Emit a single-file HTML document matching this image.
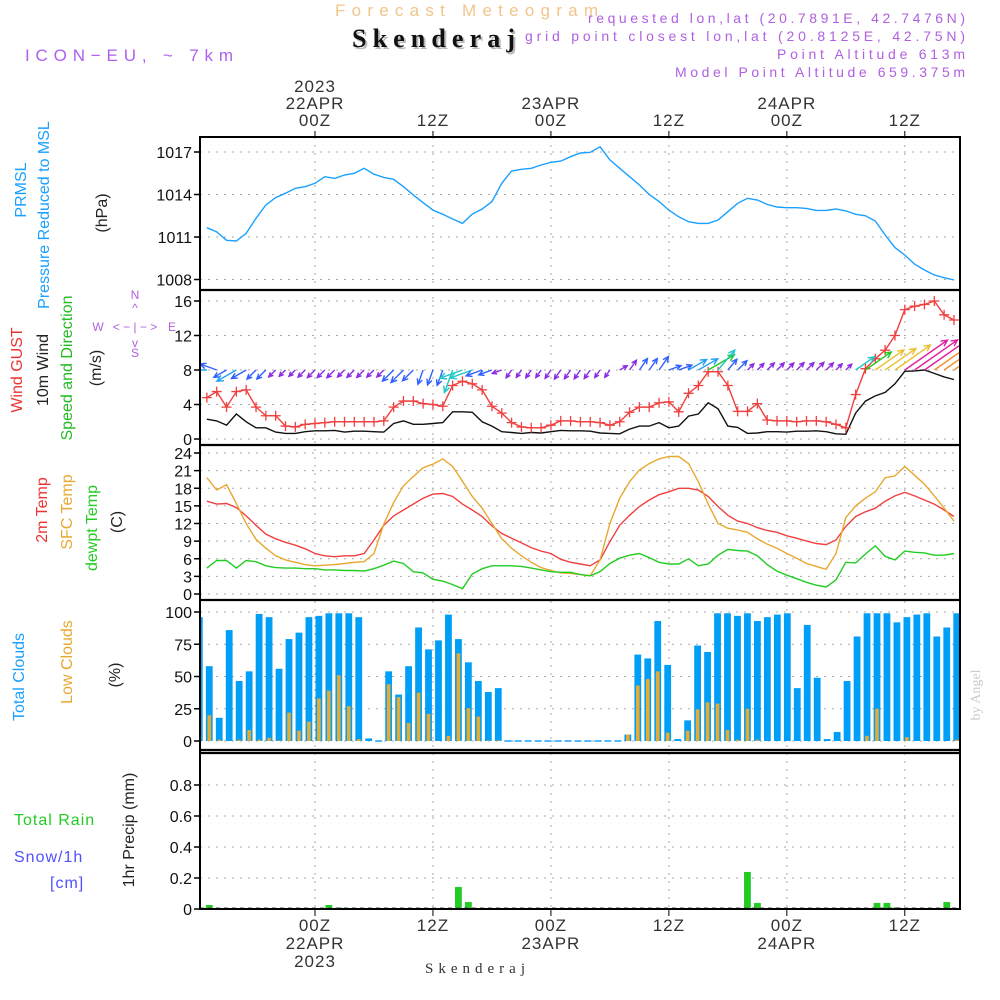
<!DOCTYPE html>
<html><head><meta charset="utf-8"><style>
body{margin:0;background:#fff;}
svg{display:block;font-family:"Liberation Sans",sans-serif;}
</style></head><body>
<svg id="chart" width="1000" height="1000" viewBox="0 0 1000 1000">
<text x="335" y="16" textLength="263" lengthAdjust="spacing" font-size="17" fill="#f2c58a">Forecast Meteogram</text>
<text x="354" y="49" textLength="163" lengthAdjust="spacing" font-size="26" font-weight="bold" fill="#bbb" font-family="Liberation Serif,serif">Skenderaj</text>
<text x="352" y="47" textLength="163" lengthAdjust="spacing" font-size="26" font-weight="bold" fill="#111" font-family="Liberation Serif,serif">Skenderaj</text>
<text x="588" y="23" textLength="377" lengthAdjust="spacing" font-size="14" fill="#b060e0">requested lon,lat (20.7891E, 42.7476N)</text>
<text x="525" y="41" textLength="440" lengthAdjust="spacing" font-size="14" fill="#b060e0">grid point closest lon,lat (20.8125E, 42.75N)</text>
<text x="777" y="59" textLength="188" lengthAdjust="spacing" font-size="14" fill="#b060e0">Point Altitude 613m</text>
<text x="675" y="77" textLength="290" lengthAdjust="spacing" font-size="14" fill="#b060e0">Model Point Altitude 659.375m</text>
<text x="25" y="61" textLength="208" lengthAdjust="spacing" font-size="17" fill="#b060f0">ICON−EU, ~ 7km</text>
<text x="980" y="695" font-size="14" fill="#ccc" font-family="Liberation Serif,serif" transform="rotate(-90 980 695)" text-anchor="middle">by Angel</text>

<g font-size="16" fill="#222">
<text x="26" y="190" fill="#1aa0ff" transform="rotate(-90 26 190)" text-anchor="middle">PRMSL</text>
<text x="49" y="215" fill="#1aa0ff" transform="rotate(-90 49 215)" text-anchor="middle">Pressure Reduced to MSL</text>
<text x="107" y="213" transform="rotate(-90 107 213)" text-anchor="middle">(hPa)</text>
<text x="22" y="370" fill="#ee3333" transform="rotate(-90 22 370)" text-anchor="middle">Wind GUST</text>
<text x="48" y="370" transform="rotate(-90 48 370)" text-anchor="middle">10m Wind</text>
<text x="72" y="368" fill="#22bb22" transform="rotate(-90 72 368)" text-anchor="middle">Speed and Direction</text>
<text x="101" y="368" transform="rotate(-90 101 368)" text-anchor="middle">(m/s)</text>
<text x="47" y="510" fill="#ee3333" transform="rotate(-90 47 510)" text-anchor="middle">2m Temp</text>
<text x="72" y="512" fill="#e8a830" transform="rotate(-90 72 512)" text-anchor="middle">SFC Temp</text>
<text x="97" y="528" fill="#22cc22" transform="rotate(-90 97 528)" text-anchor="middle">dewpt Temp</text>
<text x="122" y="522" transform="rotate(-90 122 522)" text-anchor="middle">(C)</text>
<text x="24" y="677" fill="#1aa0ff" transform="rotate(-90 24 677)" text-anchor="middle">Total Clouds</text>
<text x="72" y="662" fill="#e8a830" transform="rotate(-90 72 662)" text-anchor="middle">Low Clouds</text>
<text x="120" y="675" transform="rotate(-90 120 675)" text-anchor="middle">(%)</text>
<text x="134" y="830" transform="rotate(-90 134 830)" text-anchor="middle">1hr Precip (mm)</text>
<text x="14" y="825" fill="#22cc22" letter-spacing="1">Total  Rain</text>
<text x="14" y="862" fill="#5050ff" letter-spacing="1">Snow/1h</text>
<text x="50" y="888" fill="#5050ff" letter-spacing="1">[cm]</text>
</g>
<g fill="#b060e0" font-size="12">
<text x="135" y="299" text-anchor="middle">N</text>
<text x="135" y="312" text-anchor="middle">^</text>
<text x="98" y="331" text-anchor="middle">W</text>
<text x="135" y="331" text-anchor="middle">&lt; − | − &gt;</text>
<text x="172" y="331" text-anchor="middle">E</text>
<text x="135" y="347" text-anchor="middle">v</text>
<text x="135" y="357" text-anchor="middle">S</text>
</g>
<g id="plot"></g>
</svg>
<script>
const hours = [];
for (let h = -11; h <= 65; h++) hours.push(h);
const pressure = [1011.66,1011.37,1010.77,1010.72,1011.26,1012.32,1013.26,1013.78,1014.09,1014.44,1014.55,1014.79,1015.26,1015.14,1015.38,1015.5,1015.85,1015.43,1015.21,1015.07,1014.55,1013.97,1013.42,1012.9,1012.6,1012.27,1011.96,1012.62,1012.98,1013.5,1014.79,1015.66,1015.78,1015.85,1016.08,1016.27,1016.36,1016.67,1016.93,1016.98,1017.37,1016.44,1015.85,1015.26,1014.67,1014.01,1013.5,1012.9,1012.43,1012.08,1011.96,1011.96,1012.2,1012.79,1013.38,1013.73,1013.61,1013.3,1013.12,1013.07,1013.07,1013.02,1012.88,1012.88,1012.98,1012.84,1012.6,1012.5,1012.13,1011.14,1010.25,1009.73,1009.08,1008.67,1008.32,1008.13,1007.97];
const gust = [4.8,5.5,3.7,5.5,5.7,3.7,2.7,2.7,1.5,1.4,1.7,1.8,1.9,2.0,2.0,2.0,2.0,2.0,2.1,3.7,4.4,4.4,4.1,4.0,3.8,6.2,6.7,6.4,5.7,3.8,3.0,1.9,1.4,1.3,1.3,1.6,2.1,2.1,2.0,2.0,1.9,1.6,2.0,3.1,3.7,3.7,4.2,4.3,3.15,5.3,6.2,7.8,7.8,6.2,3.2,3.2,4.1,2.2,2.1,2.1,2.0,2.1,2.1,2.0,1.7,1.3,5.15,8.15,9.3,10.3,12.0,15.0,15.4,15.6,16.0,14.4,13.8];
const wind10 = [2.3,2.1,1.6,2.9,2.0,1.3,1.3,0.8,0.65,0.65,0.85,0.95,0.95,1.0,0.8,0.9,0.9,0.85,0.8,1.8,2.1,1.7,1.7,1.8,1.9,3.15,3.15,3.1,2.0,1.5,0.85,0.75,0.65,0.75,0.7,0.85,1.0,0.95,0.95,0.9,0.7,0.65,0.6,1.15,1.5,1.5,1.9,1.3,1.5,2.65,2.9,4.2,3.5,1.5,1.35,0.65,0.7,0.85,0.85,0.8,0.9,0.9,0.95,0.85,0.6,0.55,3.0,4.4,5.0,5.4,6.4,7.85,7.9,8.0,7.6,7.2,6.9];
const windDir = [180,160,210,210,210,225,225,225,225,225,225,225,225,225,225,225,225,225,225,225,225,225,250,250,250,250,200,200,200,200,200,235,235,235,235,235,235,235,235,235,235,235,30,55,55,55,55,20,20,30,30,30,50,50,45,45,45,45,45,45,45,45,45,45,45,45,35,35,35,35,35,35,35,35,35,35,35];
const temp2m = [15.8,15.3,15.4,14.7,13.3,11.7,10.2,9.4,8.8,8.3,7.7,6.9,6.5,6.35,6.5,6.5,6.9,9.2,11.7,13.3,14.3,15.3,16.3,17.0,17.1,16.6,15.3,14.3,13.2,11.6,10.3,9.5,8.7,7.9,7.3,6.9,5.9,5.4,5.1,4.8,5.8,8.9,11.7,13.4,14.9,16.0,16.9,17.4,18.0,18.0,17.7,16.6,14.9,13.4,12.4,12.0,11.3,10.8,10.5,9.9,9.5,9.0,8.6,8.4,9.2,11.5,13.2,14.0,14.6,15.8,16.7,17.3,16.7,16.0,15.3,14.3,13.2];
const tempSfc = [19.8,17.7,18.6,15.4,12.0,9.3,7.8,6.5,5.8,5.4,5.0,4.8,4.9,5.0,5.2,5.4,5.5,6.9,11.9,15.6,18.4,20.0,21.5,22.1,23.0,21.7,19.2,16.6,14.6,12.0,9.4,7.8,6.5,5.4,4.5,4.0,3.6,3.5,3.3,3.1,5.8,12.0,16.3,19.1,21.1,22.2,23.0,23.4,23.4,22.2,19.1,15.3,12.0,11.2,10.9,10.5,9.4,8.5,7.8,6.9,6.1,5.2,4.7,4.2,6.9,13.0,15.0,16.3,17.4,19.8,20.1,21.7,20.2,18.7,16.7,14.6,12.4];
const dewpt = [4.4,5.7,5.7,4.4,5.7,5.5,4.8,4.5,4.4,4.4,4.3,4.3,4.1,4.1,4.0,4.0,3.9,4.3,4.9,5.6,5.2,3.8,3.6,2.5,2.2,1.6,0.9,3.4,4.3,4.8,4.8,4.8,4.7,4.4,4.1,3.8,3.7,3.7,3.3,3.1,3.8,5.2,6.1,6.6,6.9,6.2,5.4,5.1,5.1,6.0,4.8,5.1,6.6,7.6,7.4,7.3,6.5,5.0,3.9,3.2,2.6,2.0,1.5,1.2,2.4,5.4,5.3,6.8,8.2,6.4,5.8,7.3,7.1,7.0,6.6,6.6,6.9];
const totalClouds = [96,58,18,86,46.5,54,98.5,96,56,79,84,96,97,99,99,99,96,2,0,54,36,58,88,71,78,98,79,61,46.5,38,41,0,0,0,0,0,0,0,0,0,0,0,0,5,67,64,93,59,1.5,16,74,69,99,99,97,99,93,96,98,99,41,90,49,1.5,7,46.5,81,99,99,99,92,96,98,99,81,88,99];
const lowClouds = [85,20,1,0,1,8.5,1,2.5,0.5,22,8,15,33,39,51,27,1.5,0,0,44,34,14,37.5,21,0,4,68,25.5,19,0.5,0.5,0,0,0,0,0,0,0,0,0,0,0,0,5,43,48,54,6.5,0,8,24.5,30,29,8.5,1,25,1,0,0,0,0,0,0,0,0,0,0,4,25,0,0,3,0,0,0,0,1];
const precip = [0,0.026,0,0,0,0,0,0,0,0,0,0,0,0.026,0.01,0,0,0,0,0,0,0,0,0,0,0,0.142,0.045,0,0,0,0,0,0,0,0,0,0,0,0,0,0,0,0,0,0,0,0,0,0,0,0,0,0,0,0.239,0.039,0,0,0,0,0,0,0,0,0,0,0,0.039,0.039,0.011,0,0,0,0,0.045,0];
const pressTicks = [1008,1011,1014,1017];
const windTicks = [0,4,8,12,16];
const tempTicks = [0,3,6,9,12,15,18,21,24];
const cloudTicks = [0,25,50,75,100];
const precipTicks = [0,0.2,0.4,0.6,0.8];
const timeTicks = [0,12,24,36,48,60];
const topLabels = [["2023","22APR","00Z"],["","","12Z"],["","23APR","00Z"],["","","12Z"],["","24APR","00Z"],["","","12Z"]];
const botLabels = [["00Z","22APR","2023"],["12Z","",""],["00Z","23APR",""],["12Z","",""],["00Z","24APR",""],["12Z","",""]];

const X0 = 200, X1 = 960;
const x = h => 315 + h * 9.83;
const xb = k => 199.3 + k * 9.966;
const yP = v => 152 + (1017 - v) * 14.17;
const yW = v => 439 - v * 8.625;
const yT = v => 594 - v * 5.875;
const yC = v => 741 - v * 1.29;
const yR = v => 909 - v * 155;

const NS = "http://www.w3.org/2000/svg";
const root = document.getElementById('plot');
function mk(tag, attrs, parent) {
  const e = document.createElementNS(NS, tag);
  for (const k in attrs) e.setAttribute(k, attrs[k]);
  (parent || root).appendChild(e);
  return e;
}
const clip = mk('clipPath', {id: 'pc'});
mk('rect', {x: X0, y: 137, width: X1 - X0, height: 772}, clip);

function grid(ticks, yf, fmt, name) {
  ticks.forEach(t => {
    const gl = mk('line', {x1: X0, x2: X1, y1: yf(t), y2: yf(t), stroke: '#aaa', 'stroke-dasharray': '2,6'});
    
    
    mk('line', {x1: X0 - 6, x2: X0, y1: yf(t), y2: yf(t), stroke: '#000', 'stroke-width': 1.5});
    const tl = mk('text', {x: 192, y: yf(t) + 6, 'text-anchor': 'end', 'font-size': 16, fill: '#111'});
    tl.textContent = fmt(t);
    
    
  });
}
grid(pressTicks, yP, t => t, 'pressure');
grid(windTicks, yW, t => t, 'wind');
grid(tempTicks, yT, t => t, 'temp');
grid(cloudTicks, yC, t => t, 'cloud');
grid(precipTicks, yR, t => t === 0 ? '0' : t.toFixed(1), 'precip');
timeTicks.forEach((h, i) => {
  const vl = mk('line', {x1: x(h), x2: x(h), y1: 137, y2: 909, stroke: '#aaa', 'stroke-dasharray': '2,6'});
  
  
  mk('line', {x1: x(h), x2: x(h), y1: 131, y2: 137, stroke: '#000'});
  mk('line', {x1: x(h), x2: x(h), y1: 909, y2: 916, stroke: '#000'});
  topLabels[i].forEach((s, j) => {
    if (!s) return;
    const t = mk('text', {x: x(h), y: 92 + j * 17, 'text-anchor': 'middle', 'font-size': 17, fill: '#333', 'letter-spacing': 1});
    t.textContent = s;
    
    
  });
  botLabels[i].forEach((s, j) => {
    if (!s) return;
    const t = mk('text', {x: x(h), y: 931 + j * 18, 'text-anchor': 'middle', 'font-size': 17, fill: '#333', 'letter-spacing': 1});
    t.textContent = s;
    
    
  });
});
const bt = mk('text', {x: 425, y: 973, textLength: 100, lengthAdjust: 'spacing', 'font-size': 15, fill: '#333', 'font-family': 'Liberation Serif,serif'});
bt.textContent = 'Skenderaj';



const g = mk('g', {'clip-path': 'url(#pc)'});
function line(vals, yf, color, name) {
  const p = mk('polyline', {points: vals.map((v, i) => x(hours[i]) + ',' + yf(v).toFixed(1)).join(' '), fill: 'none', stroke: color, 'stroke-width': 1.4}, g);
  
  
}
line(pressure, yP, '#1aa0ff', 'pressure-line');
line(wind10, yW, '#111', 'wind-10m-line');
line(gust, yW, '#f04040', 'gust-line');
gust.forEach((v, i) => {
  const cx = x(hours[i]), cy = yW(v);
  const c = mk('path', {d: `M${cx - 5},${cy}H${cx + 5}M${cx},${cy - 5}V${cy + 5}`, stroke: '#f04040', 'stroke-width': 1.3}, g);
  
  
});
function spdColor(s) {
  if (s < 1.2) return '#8a2be2';
  if (s < 2.2) return '#3060ff';
  if (s < 3.0) return '#20a0f0';
  if (s < 4.0) return '#20c8c8';
  if (s < 5.0) return '#20c820';
  if (s < 6.5) return '#e8c030';
  if (s < 7.8) return '#f09030';
  return '#e020a0';
}
wind10.forEach((s, i) => {
  const a = windDir[i] * Math.PI / 180;
  const L = 5 + s * 6;
  const x0 = x(hours[i]), y0 = 370;
  const x1 = x0 + L * Math.cos(a), y1 = y0 - L * Math.sin(a);
  const ha = 0.45, hl = Math.min(7, 3 + L * 0.2);
  const p1x = x1 - hl * Math.cos(a - ha), p1y = y1 + hl * Math.sin(a - ha);
  const p2x = x1 - hl * Math.cos(a + ha), p2y = y1 + hl * Math.sin(a + ha);
  const col = spdColor(s);
  const ar = mk('path', {d: `M${x0},${y0}L${x1},${y1}M${p1x},${p1y}L${x1},${y1}L${p2x},${p2y}`, fill: 'none', stroke: col, 'stroke-width': 1.4}, g);
  
  
});
line(temp2m, yT, '#f04040', 'temp-2m-line');
line(tempSfc, yT, '#e8a830', 'sfc-temp-line');
line(dewpt, yT, '#22cc22', 'dewpt-line');
totalClouds.forEach((v, k) => {
  const cx = xb(k);
  if (v <= 0) {
    mk('line', {x1: cx - 3.5, x2: cx + 3.5, y1: 741, y2: 741, stroke: '#1aa0ff', 'stroke-width': 1.5}, g);
  } else {
    const b = mk('rect', {x: cx - 3.4, y: yC(v), width: 6.8, height: 741 - yC(v), fill: '#009ff7'}, g);
    
    
  }
});
lowClouds.forEach((v, k) => {
  if (v <= 0) return;
  const cx = xb(k);
  const b = mk('rect', {x: cx - 1.8, y: yC(v), width: 3.6, height: 741 - yC(v), fill: '#e8ab30'}, g);
  
  
});
precip.forEach((v, k) => {
  if (v <= 0) return;
  const cx = xb(k);
  const b = mk('rect', {x: cx - 3.4, y: yR(v), width: 6.8, height: 909 - yR(v), fill: '#22cc22'}, g);
  
  
});
mk('line', {x1: X0, x2: X1, y1: 908, y2: 908, stroke: '#555', 'stroke-dasharray': '4,4'}, g);

mk('rect', {x: X0, y: 137, width: X1 - X0, height: 772, fill: 'none', stroke: '#000', 'stroke-width': 2});
[290, 445, 600, 750, 753].forEach(yy => mk('line', {x1: X0, x2: X1, y1: yy, y2: yy, stroke: '#000', 'stroke-width': 2.2}));
</script>
</body></html>
